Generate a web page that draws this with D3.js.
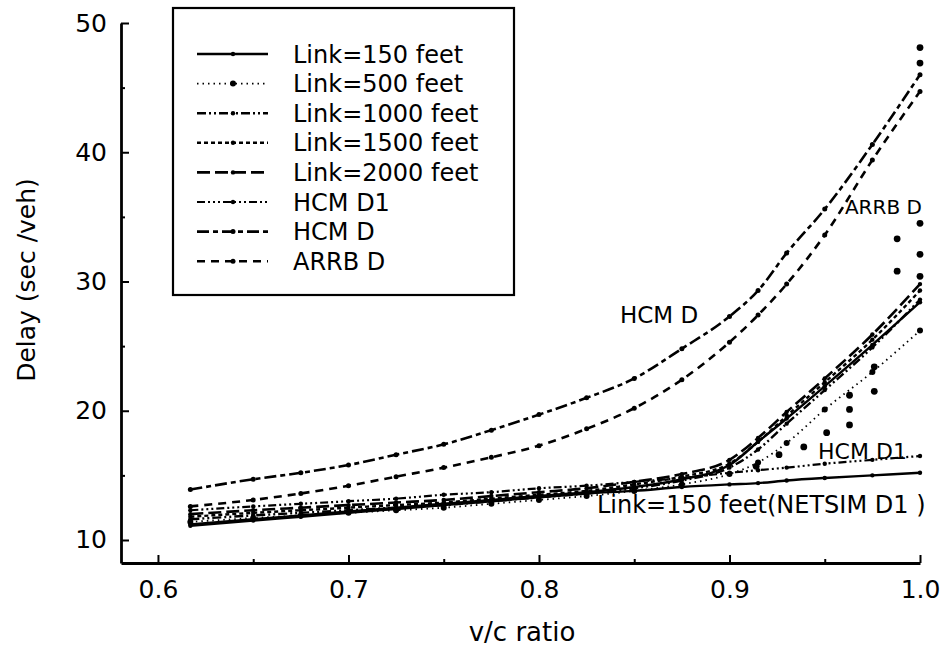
<!DOCTYPE html>
<html>
<head>
<meta charset="utf-8">
<script src="https://cdn.jsdelivr.net/npm/d3@7"></script>
<style>
    body { margin: 0; background: #fff; }
    svg text { font-family: "DejaVu Sans", sans-serif; fill: #000; }
    .axis path, .axis line { stroke: #000; }
    .axis path { stroke-width: 2.8; }
    .axis line { stroke-width: 2; }
    .series { fill: none; stroke: #000; }
</style>
</head>
<body>
<svg class="chart"></svg>
<script>
// v/c ratio points shared by every curve
var vcRatio = [0.617, 0.65, 0.675, 0.7, 0.725, 0.75, 0.775, 0.8, 0.825, 0.85, 0.875, 0.9, 0.915, 0.93, 0.95, 0.975, 1.0];

// delay in sec/veh
var link150 = [11.2, 11.6, 11.9, 12.2, 12.5, 12.8, 13.1, 13.4, 13.7, 14.1, 14.7, 15.8, 17.6, 19.4, 21.9, 25.1, 28.4];
var link500 = [11.4, 11.7, 11.9, 12.1, 12.3, 12.5, 12.8, 13.1, 13.4, 13.8, 14.3, 15.1, 16.0, 17.5, 20.1, 23.0, 26.2];
var link1000 = [11.6, 11.9, 12.1, 12.3, 12.5, 12.7, 13.0, 13.3, 13.6, 14.0, 14.6, 15.6, 17.0, 19.0, 21.6, 24.9, 28.6];
var link1500 = [11.8, 12.1, 12.3, 12.5, 12.7, 12.9, 13.2, 13.5, 13.8, 14.3, 14.9, 15.9, 17.6, 19.6, 22.2, 25.5, 29.3];
var link2000 = [12.0, 12.3, 12.5, 12.7, 12.9, 13.1, 13.4, 13.7, 14.0, 14.5, 15.1, 16.2, 17.9, 19.9, 22.5, 25.9, 29.8];
var hcmD1 = [12.3, 12.6, 12.8, 13.0, 13.2, 13.5, 13.7, 14.0, 14.2, 14.5, 14.8, 15.2, 15.4, 15.6, 15.9, 16.2, 16.5];
var hcmD = [13.9, 14.7, 15.2, 15.8, 16.6, 17.4, 18.5, 19.7, 21.0, 22.5, 24.8, 27.3, 29.3, 32.2, 35.6, 40.6, 46.0];
var arrbD = [12.6, 13.1, 13.6, 14.2, 14.9, 15.6, 16.4, 17.3, 18.6, 20.2, 22.4, 25.3, 27.4, 29.8, 33.6, 39.4, 44.7];
var netsimD1 = [11.1, 11.5, 11.8, 12.1, 12.4, 12.7, 13.0, 13.3, 13.6, 13.8, 14.1, 14.3, 14.4, 14.6, 14.8, 15.0, 15.2];

// loose simulation points near saturation
var strayVc = [0.914, 0.926, 0.939, 0.951, 0.963, 0.963, 0.963, 0.976, 0.976, 0.988, 0.988, 1.0, 1.0, 1.0, 1.0, 1.0];
var strayDelay = [15.7, 16.6, 17.2, 18.3, 18.9, 20.1, 21.2, 21.5, 23.4, 30.8, 33.3, 30.4, 32.1, 34.5, 46.9, 48.1];

var legendNames = ["Link=150 feet", "Link=500 feet", "Link=1000 feet", "Link=1500 feet",
    "Link=2000 feet", "HCM D1", "HCM D", "ARRB D"];

var xTicks = [0.6, 0.7, 0.8, 0.9, 1.0];
var xMinorTicks = [0.65, 0.75, 0.85, 0.95];
var yTicks = [10, 20, 30, 40, 50];
var yMinorTicks = [15, 25, 35, 45];

var series = [
    {name: legendNames[0], values: link150, dash: null, width: 2.4, marker: 2.2},
    {name: legendNames[1], values: link500, dash: "1.5,4", width: 1.8, marker: 3},
    {name: legendNames[2], values: link1000, dash: "9,3,2,3,2,3", width: 2.4, marker: 2.2},
    {name: legendNames[3], values: link1500, dash: "4,3", width: 2.4, marker: 2.2},
    {name: legendNames[4], values: link2000, dash: "13,5", width: 2.6, marker: 2.2},
    {name: legendNames[5], values: hcmD1, dash: "8,3,2,3,2,3,2,3", width: 2.2, marker: 2.2},
    {name: legendNames[6], values: hcmD, dash: "12,4,5,4", width: 2.6, marker: 2.5},
    {name: legendNames[7], values: arrbD, dash: "8,6", width: 2.6, marker: 2.5}
];
var netsim = {name: "NETSIM D1", values: netsimD1, dash: null, width: 2.4, marker: 2.2};

var width = 947, height = 650;
var svg = d3.select(".chart").attr("width", width).attr("height", height);

var x = d3.scaleLinear().domain([0.5806, 1.0]).range([121, 920]);
var y = d3.scaleLinear().domain([8.22, 50]).range([563, 23]);

// axes, ticks pointing inward
svg.append("g")
    .attr("class", "x axis")
    .attr("transform", "translate(0," + y(8.22) + ")")
    .call(d3.axisBottom(x).tickValues(xTicks).tickFormat(d3.format(".1f"))
        .tickSizeInner(-8).tickSizeOuter(0).tickPadding(17))
    .call(function (g) { g.selectAll("text").style("font-size", "25px"); });
svg.append("g")
    .attr("class", "x axis")
    .attr("transform", "translate(0," + y(8.22) + ")")
    .call(d3.axisBottom(x).tickValues(xMinorTicks).tickFormat("")
        .tickSizeInner(-4).tickSizeOuter(0))
    .select(".domain").remove();

svg.append("g")
    .attr("class", "y axis")
    .attr("transform", "translate(" + x(0.5806) + ",0)")
    .call(d3.axisLeft(y).tickValues(yTicks).tickFormat(d3.format("d"))
        .tickSizeInner(-8).tickSizeOuter(0).tickPadding(14))
    .call(function (g) { g.selectAll("text").style("font-size", "25px"); });
svg.append("g")
    .attr("class", "y axis")
    .attr("transform", "translate(" + x(0.5806) + ",0)")
    .call(d3.axisLeft(y).tickValues(yMinorTicks).tickFormat("")
        .tickSizeInner(-4).tickSizeOuter(0))
    .select(".domain").remove();

svg.append("text")
    .attr("x", 522).attr("y", 641)
    .style("text-anchor", "middle").style("font-size", "26px")
    .text("v/c ratio");
svg.append("text")
    .attr("transform", "translate(35,280) rotate(-90)")
    .style("text-anchor", "middle").style("font-size", "25px")
    .text("Delay (sec /veh)");

// curves
var line = d3.line()
    .x(function (d) { return x(d[0]); })
    .y(function (d) { return y(d[1]); })
    .curve(d3.curveMonotoneX);

function drawSeries(s) {
    var pts = vcRatio.map(function (v, i) { return [v, s.values[i]]; });
    svg.append("path")
        .attr("class", "series")
        .attr("d", line(pts))
        .attr("stroke-width", s.width)
        .attr("stroke-dasharray", s.dash);
    svg.append("g").selectAll("circle")
        .data(pts)
        .enter().append("circle")
        .attr("cx", function (d) { return x(d[0]); })
        .attr("cy", function (d) { return y(d[1]); })
        .attr("r", s.marker)
        .attr("fill", "#000");
}

series.forEach(drawSeries);
drawSeries(netsim);

svg.append("g").selectAll("circle")
    .data(strayVc)
    .enter().append("circle")
    .attr("cx", function (v) { return x(v); })
    .attr("cy", function (v, i) { return y(strayDelay[i]); })
    .attr("r", 3.4)
    .attr("fill", "#000");

// curve labels
var labels = [
    {text: "HCM D", v: 0.8425, d: 26.8, size: 23},
    {text: "ARRB D", v: 0.9606, d: 35.2, size: 20},
    {text: "HCM D1", v: 0.9465, d: 16.3, size: 22},
    {text: "Link=150 feet(NETSIM D1 )", v: 0.8304, d: 12.1, size: 24}
];
svg.append("g").selectAll("text")
    .data(labels)
    .enter().append("text")
    .attr("x", function (l) { return x(l.v); })
    .attr("y", function (l) { return y(l.d); })
    .style("font-size", function (l) { return l.size + "px"; })
    .text(function (l) { return l.text; });

// legend
var legend = svg.append("g").attr("class", "legend");
legend.append("rect")
    .attr("x", 173).attr("y", 8)
    .attr("width", 341).attr("height", 287)
    .attr("fill", "#fff").attr("stroke", "#000").attr("stroke-width", 2.2);

var row = legend.selectAll(".row")
    .data(series)
    .enter().append("g")
    .attr("class", "row")
    .attr("transform", function (s, i) { return "translate(0," + (54 + i * 29.6) + ")"; });
row.append("line")
    .attr("x1", 197).attr("x2", 268)
    .attr("stroke", "#000")
    .attr("stroke-width", function (s) { return s.width; })
    .attr("stroke-dasharray", function (s) { return s.dash; });
row.append("circle")
    .attr("cx", 233).attr("r", function (s) { return s.marker; })
    .attr("fill", "#000");
row.append("text")
    .attr("x", 293).attr("dy", "0.36em")
    .style("font-size", "24px")
    .text(function (s) { return s.name; });
</script>
</body>
</html>
